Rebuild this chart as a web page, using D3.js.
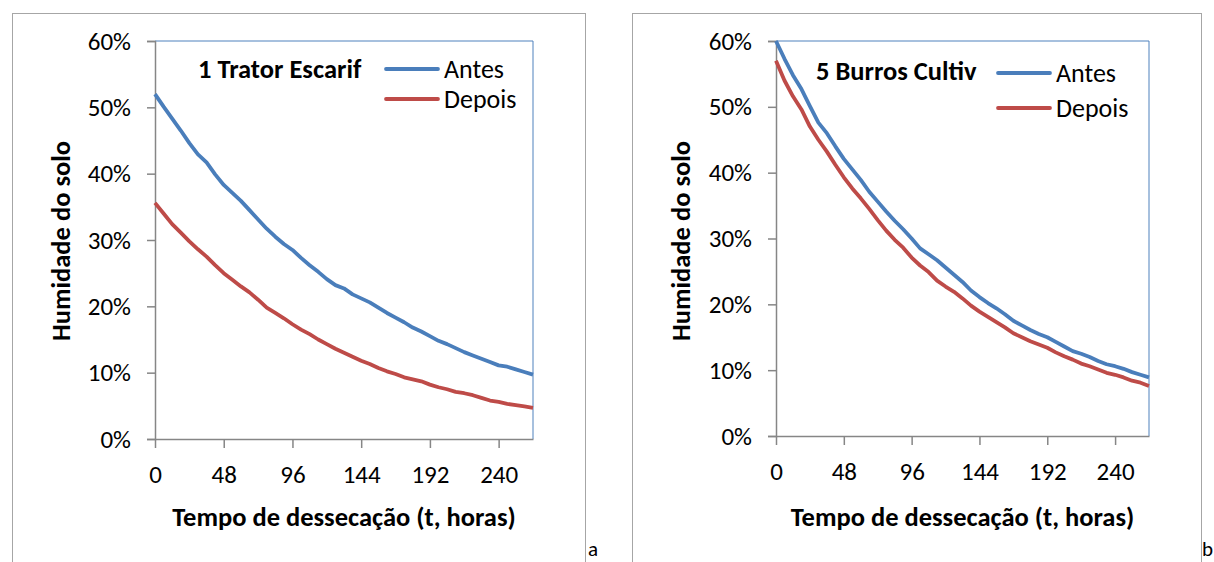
<!DOCTYPE html>
<html>
<head>
<meta charset="utf-8">
<script src="https://cdnjs.cloudflare.com/ajax/libs/d3/7.8.5/d3.min.js"></script>
<style>
  body { margin: 0; background: #fff; }
  svg text { font-family: Carlito, Calibri, Lato, sans-serif; fill: #000; }
</style>
</head>
<body>
<svg id="chart" width="1214" height="562"></svg>
<script>

// tempo de dessecacao (horas)
var horas = [0, 6, 12, 18, 24, 30, 36, 42, 48, 54, 60, 66, 72, 78, 84, 90, 96, 102, 108, 114, 120,
  126, 132, 138, 144, 150, 156, 162, 168, 174, 180, 186, 192, 198, 204, 210, 216, 222, 228, 234, 240,
  246, 252, 258, 264];

// humidade do solo (%) - 1 Trator Escarif
var trator_antes = [52.0, 50.1, 48.3, 46.5, 44.6, 42.9, 41.7, 39.9, 38.3, 37.1, 35.9, 34.5, 33.1, 31.7,
  30.5, 29.4, 28.5, 27.3, 26.2, 25.2, 24.1, 23.2, 22.7, 21.8, 21.2, 20.6, 19.8, 19.0, 18.3, 17.6, 16.8,
  16.2, 15.5, 14.8, 14.3, 13.7, 13.1, 12.6, 12.1, 11.6, 11.1, 10.9, 10.5, 10.1, 9.7];
var trator_depois = [35.6, 34.0, 32.4, 31.1, 29.8, 28.6, 27.5, 26.2, 25.0, 24.0, 23.0, 22.1, 21.0, 19.8,
  19.0, 18.2, 17.3, 16.5, 15.8, 15.0, 14.3, 13.6, 13.0, 12.4, 11.8, 11.3, 10.7, 10.2, 9.8, 9.3, 9.0,
  8.7, 8.2, 7.8, 7.5, 7.1, 6.9, 6.6, 6.2, 5.8, 5.6, 5.3, 5.1, 4.9, 4.7];

// humidade do solo (%) - 5 Burros Cultiv
var burros_antes = [60.0, 57.3, 54.8, 52.7, 50.1, 47.6, 46.0, 44.0, 42.1, 40.5, 38.9, 37.1, 35.6, 34.1,
  32.7, 31.4, 30.0, 28.5, 27.6, 26.7, 25.6, 24.5, 23.4, 22.1, 21.1, 20.2, 19.4, 18.5, 17.5, 16.8, 16.1,
  15.5, 15.0, 14.3, 13.6, 12.9, 12.5, 12.0, 11.4, 10.9, 10.6, 10.2, 9.7, 9.3, 8.9];
var burros_depois = [57.0, 54.0, 51.6, 49.6, 47.0, 45.0, 43.2, 41.2, 39.3, 37.6, 36.1, 34.5, 32.8, 31.2,
  29.8, 28.6, 27.1, 25.9, 24.9, 23.6, 22.7, 21.9, 20.9, 19.8, 18.9, 18.1, 17.3, 16.5, 15.6, 15.0, 14.4,
  13.9, 13.4, 12.7, 12.1, 11.6, 11.0, 10.6, 10.1, 9.6, 9.3, 8.9, 8.4, 8.1, 7.6];

var xTicks = [0, 48, 96, 144, 192, 240];
var yTicks = [0, 10, 20, 30, 40, 50, 60];
var seriesNames = ["Antes", "Depois"];
var seriesColors = ["#4a7ebb", "#be4b48"];

var svg = d3.select("#chart");

var drawPanel = function(p) {

  // moldura exterior
  svg.append("rect")
      .attr("x", p.frame[0] + 0.5)
      .attr("y", p.frame[1] + 0.5)
      .attr("width", p.frame[2])
      .attr("height", p.frame[3])
      .attr("fill", "none")
      .attr("stroke", "#a6a6a6")
      .attr("stroke-width", 1);

  var x = d3.scaleLinear().domain([0, 264]).range([p.left, p.right]);
  var y = d3.scaleLinear().domain([0, 60]).range([p.bottom, p.top]);

  // bordas do plot (topo e direita)
  svg.append("path")
      .attr("d", "M" + p.left + "," + p.top + "H" + p.right + "V" + p.bottom)
      .attr("fill", "none")
      .attr("stroke", "#4f81bd")
      .attr("stroke-width", 1);

  var gy = svg.append("g")
      .attr("transform", "translate(" + p.left + ",0)")
      .call(d3.axisLeft(y).tickValues(yTicks).tickSize(8).tickPadding(16)
        .tickFormat(function(d) { return d + "%"; }));

  var gx = svg.append("g")
      .attr("transform", "translate(0," + p.bottom + ")")
      .call(d3.axisBottom(x).tickValues(xTicks).tickSize(9).tickPadding(17).tickSizeOuter(0));

  [gx, gy].forEach(function(g) {
    g.select(".domain").attr("stroke", "#868686").attr("stroke-width", 1.5);
    g.selectAll(".tick line").attr("stroke", "#868686").attr("stroke-width", 1.5);
    g.selectAll(".tick text").attr("font-size", 25).attr("font-family", null);
  });

  var line = d3.line()
      .x(function(d, i) { return x(horas[i]); })
      .y(function(d) { return y(d); });

  [p.antes, p.depois].forEach(function(vals, k) {
    svg.append("path")
        .datum(vals)
        .attr("fill", "none")
        .attr("stroke", seriesColors[k])
        .attr("stroke-width", 3.8)
        .attr("stroke-linejoin", "round")
        .attr("d", line);
  });

  // titulo interno
  svg.append("text")
      .attr("x", p.titleX)
      .attr("y", p.titleY)
      .attr("dy", "0.35em")
      .attr("font-size", 26.5)
      .attr("font-weight", "bold")
      .text(p.title);

  // legenda
  seriesNames.forEach(function(name, k) {
    var ly = p.legendY[k];
    svg.append("line")
        .attr("x1", p.legendX)
        .attr("x2", p.legendX + 52)
        .attr("y1", ly)
        .attr("y2", ly)
        .attr("stroke", seriesColors[k])
        .attr("stroke-width", 3.8)
        .attr("stroke-linecap", "round");
    svg.append("text")
        .attr("x", p.legendX + 58)
        .attr("y", ly)
        .attr("dy", "0.35em")
        .attr("font-size", 26)
        .text(name);
  });

  // titulos dos eixos
  svg.append("text")
      .attr("x", (p.left + p.right) / 2)
      .attr("y", 517)
      .attr("dy", "0.35em")
      .attr("text-anchor", "middle")
      .attr("font-size", 26.5)
      .attr("font-weight", "bold")
      .text("Tempo de dessecação (t, horas)");

  svg.append("text")
      .attr("transform", "translate(" + p.yTitleX + ",241) rotate(-90)")
      .attr("dy", "0.35em")
      .attr("text-anchor", "middle")
      .attr("font-size", 26.5)
      .attr("font-weight", "bold")
      .text("Humidade do solo");

  svg.append("text")
      .attr("x", p.letterX)
      .attr("y", 556)
      .attr("font-size", 21)
      .text(p.letter);
};

drawPanel({
  frame: [12, 13, 573, 570],
  left: 155, right: 533, top: 41, bottom: 439,
  antes: trator_antes, depois: trator_depois,
  title: "1 Trator Escarif", titleX: 198, titleY: 69,
  legendX: 386, legendY: [69, 99],
  yTitleX: 61,
  letter: "a", letterX: 588
});

drawPanel({
  frame: [632, 13, 569, 570],
  left: 776, right: 1149, top: 41, bottom: 436,
  antes: burros_antes, depois: burros_depois,
  title: "5 Burros Cultiv", titleX: 816, titleY: 71,
  legendX: 998, legendY: [73, 108],
  yTitleX: 681,
  letter: "b", letterX: 1202
});

</script>
</body>
</html>
